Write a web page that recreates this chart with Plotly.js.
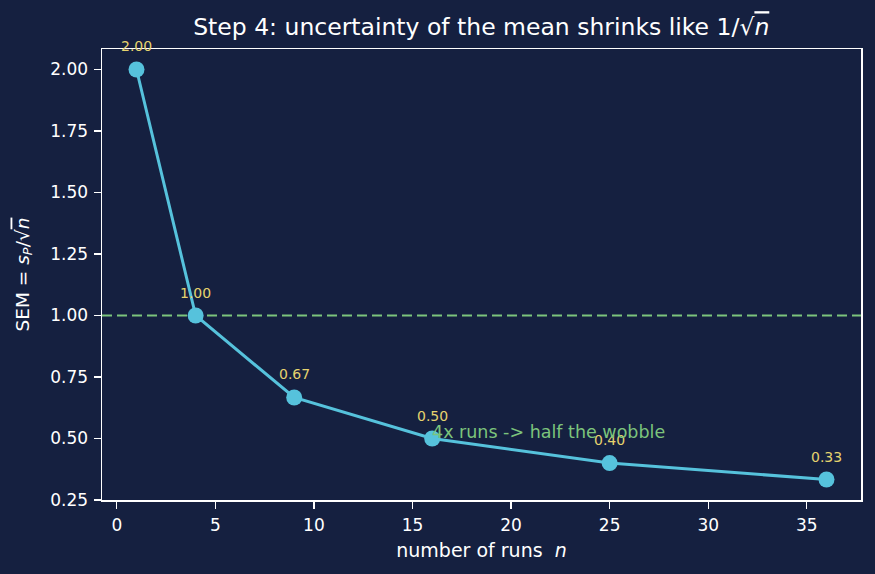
<!DOCTYPE html>
<html>
<head>
<meta charset="utf-8">
<script src="https://cdn.plot.ly/plotly-3.0.1.min.js"></script>
<style>html,body{margin:0;padding:0;background:#152040;}#chart{width:875px;height:574px;}</style>
</head>
<body>
<div id="chart"></div>
<script>
const nRuns = [1, 4, 9, 16, 25, 36];
const semValues = [2.00, 1.00, 0.6667, 0.50, 0.40, 0.3333];
const valueLabels = ["2.00", "1.00", "0.67", "0.50", "0.40", "0.33"];
const refLevel = 1.0;
const xTicks = [0, 5, 10, 15, 20, 25, 30, 35];
const yTicks = [0.25, 0.50, 0.75, 1.00, 1.25, 1.50, 1.75, 2.00];
const yTickText = ["0.25", "0.50", "0.75", "1.00", "1.25", "1.50", "1.75", "2.00"];
const noteText = "4x runs -> half the wobble";
const noteAt = [16, 0.5];

const bg = "#152040";
const lineColor = "#56c2dc";
const labelColor = "#e6d36e";
const green = "#7cc47c";
const fontFam = "DejaVu Sans, sans-serif";
const ov = "<span style='text-decoration:overline'><i>n</i></span>";

const traces = [
  {
    x: [-0.75, 37.75], y: [refLevel, refLevel], mode: "lines",
    line: {color: green, width: 2, dash: "10px,5px"}, hoverinfo: "skip", showlegend: false
  },
  {
    x: nRuns, y: semValues, mode: "lines+markers",
    line: {color: lineColor, width: 3},
    marker: {color: lineColor, size: 16},
    showlegend: false
  }
];

const annotations = nRuns.map((n, i) => ({
  x: n, y: semValues[i], xref: "x", yref: "y",
  text: valueLabels[i], showarrow: false,
  yanchor: "bottom", xanchor: "center", yshift: 13,
  font: {family: fontFam, size: 14, color: labelColor}
}));
annotations.push({
  x: noteAt[0], y: noteAt[1], xref: "x", yref: "y",
  text: noteText, showarrow: false,
  xanchor: "left", yanchor: "bottom", xshift: -2, yshift: -5,
  font: {family: fontFam, size: 17.5, color: green}
});

const axisCommon = {
  showgrid: false, zeroline: false, showline: true, mirror: true,
  linecolor: "#ffffff", linewidth: 1.5,
  ticks: "outside", ticklen: 7, tickwidth: 1.2, tickcolor: "#ffffff",
  ticklabelstandoff: 2,
  tickfont: {family: fontFam, size: 17, color: "#ffffff"}
};

const layout = {
  width: 875, height: 574,
  paper_bgcolor: bg, plot_bgcolor: bg,
  margin: {l: 102, r: 14, t: 49, b: 74},
  title: {
    text: "Step 4: uncertainty of the mean shrinks like 1/√" + ov,
    font: {family: fontFam, size: 23.5, color: "#ffffff"},
    x: 0.55, xanchor: "center", yref: "container", y: 0.953, yanchor: "middle"
  },
  xaxis: Object.assign({}, axisCommon, {
    range: [-0.75, 37.75], tickvals: xTicks,
    title: {text: "number of runs  <i>n</i>", font: {family: fontFam, size: 19, color: "#ffffff"}, standoff: 10}
  }),
  yaxis: Object.assign({}, axisCommon, {
    range: [0.25, 2.0833], tickvals: yTicks, ticktext: yTickText,
    title: {text: "SEM = <i>s<sub>P</sub></i>/√" + ov, font: {family: fontFam, size: 18.5, color: "#ffffff"}, standoff: 16}
  }),
  annotations: annotations
};

Plotly.newPlot("chart", traces, layout, {displayModeBar: false, staticPlot: true});
</script>
</body>
</html>
